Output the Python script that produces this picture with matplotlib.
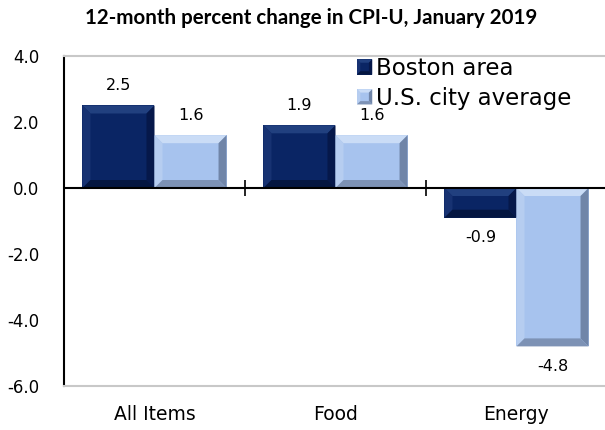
import numpy as np
import matplotlib
matplotlib.use("Agg")
import matplotlib.pyplot as plt
from matplotlib.patches import Polygon, Rectangle
from matplotlib.legend_handler import HandlerBase

plt.rcParams['font.family'] = ['DejaVu Sans']

categories = ["All Items", "Food", "Energy"]
boston = [2.5, 1.9, -0.9]
us_avg = [1.6, 1.6, -4.8]
series_names = ["Boston area", "U.S. city average"]
yticks = [4.0, 2.0, 0.0, -2.0, -4.0, -6.0]

# body, top, left, right, bottom
dark_cols = ["#0a2564", "#21407f", "#173272", "#06184a", "#041640"]
light_cols = ["#a7c3ee", "#cadcf6", "#b6cdf0", "#7085a8", "#7d92b5"]

W, H, DPI = 6.05, 4.30, 100
fig = plt.figure(figsize=(W, H), dpi=DPI)
ax = fig.add_axes([64 / 605, 44 / 430, 543 / 605, 330 / 430])
ax.set_xlim(-0.5, 2.5)
ax.set_ylim(-6, 4)

x = np.arange(len(categories))
bw = 0.398
b1 = ax.bar(x - bw / 2, boston, bw, color=dark_cols[0], linewidth=0, zorder=2)
b2 = ax.bar(x + bw / 2, us_avg, bw, color=light_cols[0], linewidth=0, zorder=2)

# bevel size in pixels converted to data units
px_x = 543 / 3.0
px_y = 330 / 10.0
bev = 8.0


def bevel_polys(x0, y0, x1, y1, dx, dy):
    dx = min(dx, (x1 - x0) / 2)
    dy = min(dy, (y1 - y0) / 2)
    top = [(x0, y1), (x1, y1), (x1 - dx, y1 - dy), (x0 + dx, y1 - dy)]
    left = [(x0, y0), (x0, y1), (x0 + dx, y1 - dy), (x0 + dx, y0 + dy)]
    right = [(x1, y0), (x1, y1), (x1 - dx, y1 - dy), (x1 - dx, y0 + dy)]
    bottom = [(x0, y0), (x1, y0), (x1 - dx, y0 + dy), (x0 + dx, y0 + dy)]
    return top, left, right, bottom


def add_bevel(target, x0, y0, x1, y1, dx, dy, cols, transform, z=3):
    for pts, c in zip(bevel_polys(x0, y0, x1, y1, dx, dy), cols[1:]):
        p = Polygon(pts, closed=True, facecolor=c, edgecolor='none',
                    transform=transform, zorder=z)
        target.add_artist(p)


for bars, cols in ((b1, dark_cols), (b2, light_cols)):
    for r in bars:
        x0, y0 = r.get_x(), r.get_y()
        x1, y1 = x0 + r.get_width(), y0 + r.get_height()
        y0, y1 = min(y0, y1), max(y0, y1)
        add_bevel(ax, x0, y0, x1, y1, bev / px_x, bev / px_y, cols, ax.transData)

# value labels
for vals, offs in ((boston, -bw / 2), (us_avg, bw / 2)):
    for xi, v in zip(x, vals):
        ax.annotate(f"{v:.1f}", (xi + offs, v), xytext=(0, 14.5 if v >= 0 else -14.5),
                    textcoords="offset points", ha="center", va="center",
                    fontsize=11.5, color="black")

# zero line with category separators
ax.axhline(0, color="black", lw=1.5, zorder=4)
seps = x[:-1] + 0.5
ax.plot(seps, np.zeros_like(seps), ls="none", marker="|", ms=12,
        mew=1.2, color="black", zorder=4)

ax.set_yticks(yticks)
ax.set_yticklabels([f"{t:.1f}" for t in yticks], fontsize=12)
ax.tick_params(axis="y", length=0, pad=18)
ax.set_xticks(x)
ax.set_xticklabels(categories, fontsize=13.5)
ax.tick_params(axis="x", length=0, pad=14)

ax.spines["right"].set_visible(False)
ax.spines["left"].set_color("black")
ax.spines["left"].set_linewidth(1.5)
for s in ("top", "bottom"):
    ax.spines[s].set_color("#c8c8c8")
    ax.spines[s].set_linewidth(1.5)

fig.text(311 / 605, 1 - 18 / 430, "12-month percent change in CPI-U, January 2019",
         ha="center", va="center", fontsize=14.8, fontweight="bold",
         family=["Lato", "DejaVu Sans"])


class BevelHandler(HandlerBase):
    def __init__(self, cols):
        super().__init__()
        self.cols = cols

    def create_artists(self, legend, orig_handle, xdescent, ydescent,
                       width, height, fontsize, trans):
        s = height * 0.95
        x0 = -xdescent
        y0 = -ydescent + (height - s) / 2
        arts = [Rectangle((x0, y0), s, s, facecolor=self.cols[0],
                          edgecolor="none", transform=trans)]
        d = s * 0.22
        for pts, c in zip(bevel_polys(x0, y0, x0 + s, y0 + s, d, d), self.cols[1:]):
            arts.append(Polygon(pts, closed=True, facecolor=c, edgecolor="none",
                                transform=trans))
        return arts


h1 = Rectangle((0, 0), 1, 1)
h2 = Rectangle((0, 0), 1, 1)
ax.legend([h1, h2], series_names,
          handler_map={h1: BevelHandler(dark_cols), h2: BevelHandler(light_cols)},
          loc="upper left", bbox_to_anchor=(357 / 605, 1 - 57 / 430),
          bbox_transform=fig.transFigure, frameon=False,
          prop={"family": "DejaVu Sans", "size": 16.5},
          handlelength=0.65, handletextpad=0.2, labelspacing=0.3,
          borderpad=0, borderaxespad=0)

fig.savefig("out.png", dpi=DPI)
